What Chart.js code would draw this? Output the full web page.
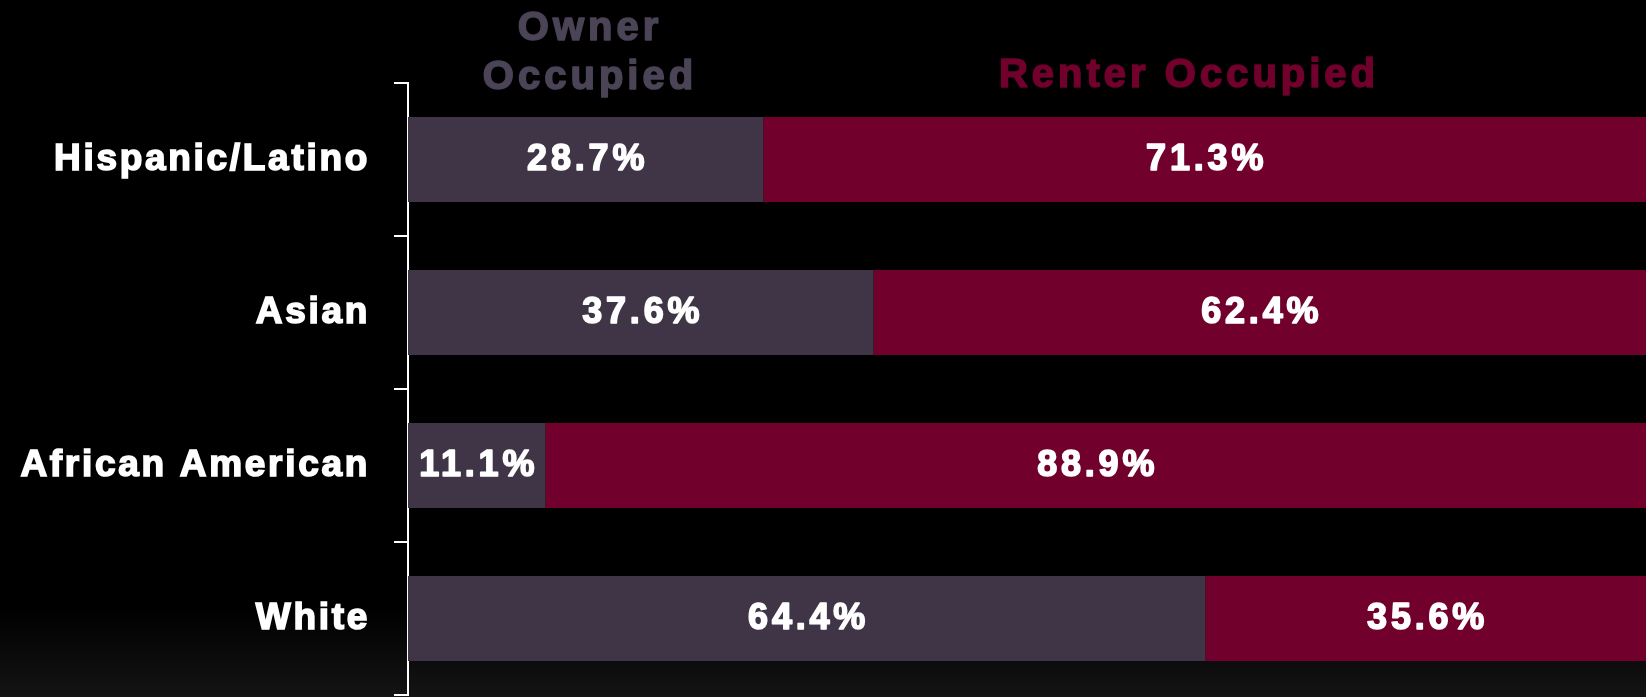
<!DOCTYPE html>
<html>
<head>
<meta charset="utf-8">
<script src="https://cdn.jsdelivr.net/npm/chart.js@4"></script>
<style>
  html, body { margin: 0; padding: 0; background: #000; overflow: hidden; }
  canvas { display: block; }
</style>
</head>
<body>
<canvas id="tenure" width="1646" height="697"></canvas>
<script>
// data
const categories = ['Hispanic/Latino', 'Asian', 'African American', 'White'];
const ownerValues = [28.7, 37.6, 11.1, 64.4];
const renterValues = [71.3, 62.4, 88.9, 35.6];
const seriesNames = ['Owner Occupied', 'Renter Occupied'];

const ownerColor = '#3f3547';
const renterColor = '#71002d';
const FONT = "'Liberation Sans', Arial, sans-serif";

// dark background, a little lighter at the very bottom
const bgPlugin = {
  id: 'bg',
  beforeDraw(chart) {
    const ctx = chart.ctx;
    const h = chart.height;
    const g = ctx.createLinearGradient(0, 0, 0, h);
    g.addColorStop(0, '#000');
    g.addColorStop(0.87, '#000');
    g.addColorStop(1, '#141414');
    ctx.fillStyle = g;
    ctx.fillRect(0, 0, chart.width, h);
    ctx.letterSpacing = '2.7px'; // wide spacing for the category labels
  }
};

// text drawn a little heavier than plain bold
function heavyText(ctx, txt, x, y, color) {
  ctx.fillStyle = color;
  ctx.strokeStyle = color;
  ctx.lineWidth = 1.6;
  ctx.lineJoin = 'round';
  ctx.strokeText(txt, x, y);
  ctx.fillText(txt, x, y);
}

// percent labels in the middle of each segment
const valueLabels = {
  id: 'valueLabels',
  afterDatasetsDraw(chart) {
    const ctx = chart.ctx;
    ctx.save();
    ctx.letterSpacing = '3.8px';
    ctx.font = 'bold 36px ' + FONT;
    ctx.textAlign = 'center';
    ctx.textBaseline = 'middle';
    chart.data.datasets.forEach((ds, i) => {
      chart.getDatasetMeta(i).data.forEach((bar, j) => {
        const x = (bar.x + bar.base) / 2 + 2;
        heavyText(ctx, ds.data[j].toFixed(1) + '%', x, bar.y + 1, '#fff');
      });
    });
    ctx.restore();
  }
};

// series names on top, coloured like the bars
const seriesTitles = {
  id: 'seriesTitles',
  afterDraw(chart) {
    const ctx = chart.ctx;
    ctx.save();
    ctx.letterSpacing = '4px';
    ctx.font = 'bold 40px ' + FONT;
    ctx.textAlign = 'center';
    ctx.textBaseline = 'alphabetic';
    const ownerWords = seriesNames[0].split(' ');
    heavyText(ctx, ownerWords[0], 590, 40, '#4b4356');
    heavyText(ctx, ownerWords[1], 590, 89, '#4b4356');
    heavyText(ctx, seriesNames[1], 1189, 87, renterColor);
    ctx.restore();
  }
};

new Chart(document.getElementById('tenure'), {
  type: 'bar',
  data: {
    labels: categories,
    datasets: [
      { label: seriesNames[0], data: ownerValues, backgroundColor: ownerColor, barPercentage: 0.555, categoryPercentage: 1 },
      { label: seriesNames[1], data: renterValues, backgroundColor: renterColor, barPercentage: 0.555, categoryPercentage: 1 }
    ]
  },
  options: {
    indexAxis: 'y',
    responsive: false,
    animation: false,
    layout: { padding: { top: 83, bottom: 2, left: 0, right: 0 } },
    plugins: { legend: { display: false }, tooltip: { enabled: false } },
    scales: {
      x: { stacked: true, min: 0, max: 100, display: false },
      y: {
        stacked: true,
        afterFit(scale) {
          scale.width = 408;
          scale.paddingTop = 0;
          scale.paddingBottom = 0;
        },
        grid: { color: '#fff', lineWidth: 2, drawOnChartArea: false, tickLength: 14, offset: true },
        border: { color: '#fff', width: 2 },
        ticks: {
          color: '#fff', padding: 24,
          textStrokeColor: '#fff', textStrokeWidth: 1.6,
          font: { family: FONT, size: 37, weight: 'bold' }
        }
      }
    }
  },
  plugins: [bgPlugin, valueLabels, seriesTitles]
});
</script>
</body>
</html>
